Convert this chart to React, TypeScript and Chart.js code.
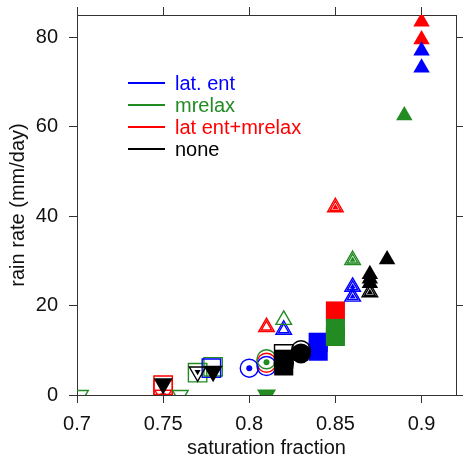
import React, { useEffect, useRef } from 'react';
import { Chart, registerables } from 'chart.js';

Chart.register(...registerables);

// ---- axes ----
const xTicks = [0.7, 0.75, 0.8, 0.85, 0.9];
const yTicks = [0, 20, 40, 60, 80];
const xMin = 0.7;
const xMax = 0.92;
const yMin = 0;
const yMax = 85;
const xTitle = 'saturation fraction';
const yTitle = 'rain rate (mm/day)';

// ---- legend ----
const seriesNames = ['lat. ent', 'mrelax', 'lat ent+mrelax', 'none'];
const seriesColors = ['#0000ff', '#228b22', '#ff0000', '#000000'];

// ---- data: [saturation fraction, rain rate] ----
// lat. ent (blue)
const latEntTriFilled = [[0.9, 77], [0.9, 73.2]];
const latEntTriDouble = [[0.86, 24.2], [0.86, 22]];
const latEntTriHollow = [[0.82, 14.6]];
const latEntSqFilled = [[0.84, 11.8], [0.84, 9.8]];
const latEntSqHollow = [[0.778, 6]];
const latEntCircDot = [[0.8, 6]];
const latEntCircHollow = [[0.81, 6.5]];

// mrelax (green)
const mrelaxTriFilled = [[0.89, 62.5]];
const mrelaxTriDouble = [[0.86, 30.2]];
const mrelaxTriHollow = [[0.82, 16.8]];
const mrelaxSqFilled = [[0.85, 14.9], [0.85, 13.1]];
const mrelaxSqHollow = [[0.77, 5], [0.779, 6.3]];
const mrelaxCircHollow = [[0.81, 8]];
const mrelaxDot = [[0.81, 7.3]];
const mrelaxDownFilled = [[0.81, 0]];
const mrelaxDownHollow = [[0.702, 0], [0.76, 0]];

// lat ent+mrelax (red)
const bothTriFilled = [[0.9, 83.5], [0.9, 79.5]];
const bothTriDouble = [[0.85, 42]];
const bothTriHollow = [[0.81, 15.2]];
const bothSqFilled = [[0.85, 18.8]];
const bothSqHollow = [[0.75, 2.2], [0.75, 1.2]];
const bothCircHollow = [[0.81, 7.2]];
const bothDownDouble = [[0.75, 0]];

// none (black)
const noneTriFilled = [[0.87, 27], [0.87, 26], [0.87, 25], [0.88, 30.3]];
const noneTriDouble = [[0.87, 23]];
const noneSqFilled = [[0.82, 6.5], [0.82, 8]];
const noneSqHollow = [[0.82, 9.2]];
const noneCircHollow = [[0.82, 7], [0.83, 10]];
const noneCircFilled = [[0.83, 9.3]];
const noneDownFilled = [[0.75, 2.5], [0.779, 5.3]];
const noneDownDouble = [[0.77, 5.2]];

// ---- marker styles ----
type Layer = { style: string; r: number; rot?: number; fill: boolean };
const markerKinds: Record<string, Layer[]> = {
  triF: [{ style: 'triangle', r: 9.5, fill: true }],
  triD: [
    { style: 'triangle', r: 9, fill: false },
    { style: 'triangle', r: 6, fill: false },
    { style: 'triangle', r: 3.5, fill: true },
  ],
  triH2: [
    { style: 'triangle', r: 9, fill: false },
    { style: 'triangle', r: 6, fill: false },
  ],
  triH: [{ style: 'triangle', r: 9, fill: false }],
  sqF: [{ style: 'rect', r: 13.5, fill: true }],
  sqH: [{ style: 'rect', r: 13, fill: false }],
  circH: [{ style: 'circle', r: 9.5, fill: false }],
  circDot: [
    { style: 'circle', r: 9, fill: false },
    { style: 'circle', r: 3, fill: true },
  ],
  circF: [{ style: 'circle', r: 10, fill: true }],
  dot: [{ style: 'circle', r: 3, fill: true }],
  dtriF: [{ style: 'triangle', r: 11, rot: 180, fill: true }],
  dtriD: [
    { style: 'triangle', r: 9.5, rot: 180, fill: false },
    { style: 'triangle', r: 3.5, rot: 180, fill: true },
  ],
  dtriH: [{ style: 'triangle', r: 9, rot: 180, fill: false }],
};

const [BLUE, GREEN, RED, BLACK] = seriesColors;

// drawing order: bottom first
const groups: { data: number[][]; color: string; kind: string }[] = [
  { data: bothSqHollow, color: RED, kind: 'sqH' },
  { data: bothDownDouble, color: RED, kind: 'dtriD' },
  { data: bothCircHollow, color: RED, kind: 'circH' },
  { data: bothTriHollow, color: RED, kind: 'triH2' },
  { data: bothSqFilled, color: RED, kind: 'sqF' },
  { data: bothTriDouble, color: RED, kind: 'triD' },
  { data: bothTriFilled, color: RED, kind: 'triF' },

  { data: latEntCircDot, color: BLUE, kind: 'circDot' },
  { data: latEntCircHollow, color: BLUE, kind: 'circH' },
  { data: latEntTriHollow, color: BLUE, kind: 'triH2' },
  { data: latEntSqFilled, color: BLUE, kind: 'sqF' },
  { data: latEntTriDouble, color: BLUE, kind: 'triD' },
  { data: latEntTriFilled, color: BLUE, kind: 'triF' },

  { data: mrelaxDownHollow, color: GREEN, kind: 'dtriH' },
  { data: mrelaxDownFilled, color: GREEN, kind: 'dtriF' },
  { data: mrelaxSqHollow, color: GREEN, kind: 'sqH' },
  { data: mrelaxCircHollow, color: GREEN, kind: 'circH' },
  { data: mrelaxDot, color: GREEN, kind: 'dot' },
  { data: mrelaxTriHollow, color: GREEN, kind: 'triH' },
  { data: mrelaxSqFilled, color: GREEN, kind: 'sqF' },
  { data: mrelaxTriDouble, color: GREEN, kind: 'triD' },
  { data: mrelaxTriFilled, color: GREEN, kind: 'triF' },

  { data: latEntSqHollow, color: BLUE, kind: 'sqH' },

  { data: noneCircHollow, color: BLACK, kind: 'circH' },
  { data: noneSqHollow, color: BLACK, kind: 'sqH' },
  { data: noneSqFilled, color: BLACK, kind: 'sqF' },
  { data: noneCircFilled, color: BLACK, kind: 'circF' },
  { data: noneDownDouble, color: BLACK, kind: 'dtriD' },
  { data: noneDownFilled, color: BLACK, kind: 'dtriF' },
  { data: noneTriDouble, color: BLACK, kind: 'triD' },
  { data: noneTriFilled, color: BLACK, kind: 'triF' },
];

const FONT = "'Liberation Sans', Arial, Helvetica, sans-serif";
const AXIS_COLOR = '#333333';

function buildDatasets() {
  const out: any[] = [];
  groups.forEach((g) => {
    markerKinds[g.kind].forEach((layer) => {
      out.push({
        type: 'scatter',
        data: g.data.map(([x, y]) => ({ x, y })),
        showLine: false,
        pointStyle: layer.style,
        pointRadius: layer.r,
        pointHoverRadius: layer.r,
        pointRotation: layer.rot || 0,
        pointBackgroundColor: layer.fill ? g.color : 'rgba(0,0,0,0)',
        pointBorderColor: g.color,
        pointBorderWidth: layer.fill ? 0 : 1.4,
        clip: 0,
      });
    });
  });
  // Chart.js draws the first dataset on top
  return out.reverse();
}

const insetLegend = {
  id: 'insetLegend',
  afterDatasetsDraw(chart: any) {
    const { ctx, chartArea } = chart;
    ctx.save();
    ctx.font = `20px ${FONT}`;
    ctx.textBaseline = 'middle';
    ctx.textAlign = 'left';
    seriesNames.forEach((name, i) => {
      const y = chartArea.top + 68 + i * 22;
      const x0 = chartArea.left + 51;
      ctx.strokeStyle = seriesColors[i];
      ctx.lineWidth = 2;
      ctx.beginPath();
      ctx.moveTo(x0, y);
      ctx.lineTo(x0 + 37, y);
      ctx.stroke();
      ctx.fillStyle = seriesColors[i];
      ctx.fillText(name, x0 + 47, y + 1);
    });
    ctx.restore();
  },
};

const gridOpts = {
  drawOnChartArea: false,
  drawTicks: true,
  tickLength: 8,
  color: AXIS_COLOR,
  lineWidth: 1,
};
const borderOpts = { display: true, color: AXIS_COLOR, width: 1 };

function zeroPad(s: any) {
  s.paddingLeft = 0;
  s.paddingRight = 0;
  s.paddingTop = 0;
  s.paddingBottom = 0;
}

function fixTicks(values: number[], min: number, max: number) {
  return (s: any) => {
    s.ticks = values.map((v) => ({ value: v }));
    s.min = min;
    s.max = max;
  };
}

export default function App() {
  const ref = useRef<HTMLCanvasElement | null>(null);

  useEffect(() => {
    if (!ref.current) return;
    const chart = new Chart(ref.current, {
      type: 'scatter',
      data: { datasets: buildDatasets() },
      plugins: [insetLegend],
      options: {
        responsive: false,
        animation: false,
        events: [],
        layout: { padding: 0, autoPadding: false },
        plugins: {
          legend: { display: false },
          tooltip: { enabled: false },
        },
        scales: {
          x: {
            type: 'linear',
            position: 'bottom',
            bounds: 'data',
            min: xMin,
            max: xMax,
            afterBuildTicks: fixTicks(xTicks, xMin, xMax),
            afterFit: (s: any) => {
              s.height = 65;
              zeroPad(s);
            },
            ticks: {
              font: { family: FONT, size: 20 },
              color: '#111111',
              padding: 9,
              maxRotation: 0,
              autoSkip: false,
              callback: (v: any) => String(v),
            },
            grid: gridOpts,
            border: borderOpts,
            title: {
              display: true,
              text: xTitle,
              font: { family: FONT, size: 20 },
              color: '#111111',
              padding: { top: 0, bottom: 0 },
            },
          },
          y: {
            type: 'linear',
            position: 'left',
            bounds: 'data',
            min: yMin,
            max: yMax,
            afterBuildTicks: fixTicks(yTicks, yMin, yMax),
            afterFit: (s: any) => {
              s.width = 77;
              zeroPad(s);
            },
            ticks: {
              font: { family: FONT, size: 20 },
              color: '#111111',
              padding: 11,
              autoSkip: false,
              callback: (v: any) => String(v),
            },
            grid: gridOpts,
            border: borderOpts,
            title: {
              display: true,
              text: yTitle,
              font: { family: FONT, size: 20 },
              color: '#111111',
              padding: { top: 6, bottom: 0 },
            },
          },
          x2: {
            type: 'linear',
            position: 'top',
            bounds: 'data',
            min: xMin,
            max: xMax,
            afterBuildTicks: fixTicks(xTicks, xMin, xMax),
            afterFit: (s: any) => {
              s.height = 15;
              zeroPad(s);
            },
            ticks: { display: false },
            grid: gridOpts,
            border: borderOpts,
          },
          y2: {
            type: 'linear',
            position: 'right',
            bounds: 'data',
            min: yMin,
            max: yMax,
            afterBuildTicks: fixTicks(yTicks, yMin, yMax),
            afterFit: (s: any) => {
              s.width = 7;
              zeroPad(s);
            },
            ticks: { display: false },
            grid: gridOpts,
            border: borderOpts,
          },
        },
      } as any,
    });
    return () => chart.destroy();
  }, []);

  return (
    <div style={{ position: 'absolute', left: 0, top: 0, width: 463, height: 460 }}>
      <canvas ref={ref} width={463} height={460} style={{ display: 'block' }} />
    </div>
  );
}
